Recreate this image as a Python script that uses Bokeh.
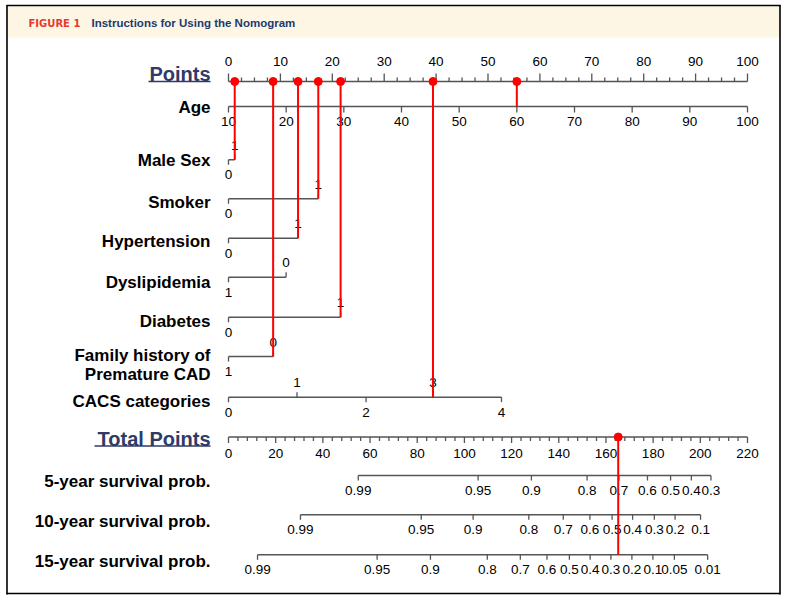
from bokeh.plotting import figure
from bokeh.models import Range1d
from bokeh.core.properties import value
from bokeh.embed import file_html
from bokeh.resources import INLINE

# ---------------- data ----------------
points_labels = [0, 10, 20, 30, 40, 50, 60, 70, 80, 90, 100]
age_labels = [10, 20, 30, 40, 50, 60, 70, 80, 90, 100]
total_labels = [0, 20, 40, 60, 80, 100, 120, 140, 160, 180, 200, 220]

var_names = ["Male Sex", "Smoker", "Hypertension", "Dyslipidemia", "Diabetes",
             "Family history of\nPremature CAD", "CACS categories"]
var_levels = [["0", "1"], ["0", "1"], ["0", "1"], ["1", "0"], ["0", "1"], ["1", "0"],
              ["0", "1", "2", "3", "4"]]
var_points = [[0, 1.2], [0, 17.3], [0, 13.4], [0, 11.1], [0, 21.6], [0, 8.6],
              [0, 13.2, 26.5, 39.4, 52.6]]

surv_names = ["5-year survival prob.", "10-year survival prob.", "15-year survival prob."]
surv5_labels = ["0.99", "0.95", "0.9", "0.8", "0.7", "0.6", "0.5", "0.4", "0.3"]
surv5_points = [55.0, 105.8, 128.4, 152.0, 165.5, 177.6, 187.4, 196.2, 204.5]
surv10_labels = ["0.99", "0.95", "0.9", "0.8", "0.7", "0.6", "0.5", "0.4", "0.3", "0.2", "0.1"]
surv10_points = [30.5, 81.7, 103.7, 127.3, 141.9, 153.2, 162.6, 171.3, 180.5, 189.3, 200.1]
surv15_labels = ["0.99", "0.95", "0.9", "0.8", "0.7", "0.6", "0.5", "0.4", "0.3", "0.2",
                 "0.1", "0.05", "0.01"]
surv15_points = [12.3, 63.0, 85.6, 109.7, 123.7, 135.0, 144.5, 153.3, 162.1, 171.0,
                 179.9, 189.0, 203.1]

patient_age = 60
patient_levels = ["1", "1", "1", "1", "1", "0", "3"]
patient_total = 165.2

# ---------------- layout ----------------
W, H = 788, 597
SX0, SX1 = 0, W
SY0, SY1 = 0, H
P0, P100 = 228.0, 747.0      # screen x of 0 and 100 points
k = (P100 - P0) / 100.0
xs = (SX0 - P0) / k
xe = (SX1 - P0) / k

p = figure(width=W, height=H, x_range=Range1d(xs, xe), y_range=Range1d(SY1, SY0),
           output_backend="svg", toolbar_location=None, min_border=0,
           x_axis_type=None, y_axis_type=None)
p.grid.visible = False
p.outline_line_color = None
p.background_fill_color = "white"
p.border_fill_color = "white"
p.extra_x_ranges = {
    "screen": Range1d(SX0, SX1),
    "age": Range1d(10 + 0.9 * xs, 10 + 0.9 * xe),
    "total": Range1d(2.2 * xs, 2.2 * xe),
}

FONT = value("Liberation Sans")
AX = "#555555"
NAVY = "#2f3b66"
RED = "#ff0000"

# header band and frame
p.quad(left=[6], right=[780], top=[5.5], bottom=[37], fill_color="#fdf6e5",
       line_color=None, x_range_name="screen")
p.multi_line(xs=[[6.5, 6.5], [779.5, 779.5], [6, 780], [6, 780]],
             ys=[[4.5, 594], [4.5, 594], [5, 5], [593, 593]],
             line_color="black", line_width=1.6, x_range_name="screen")
p.text(x=[28], y=[22.5], text=["FIGURE 1"], text_font=value("DejaVu Sans"),
       text_font_style="bold", text_font_size="10px", text_color="#e8392f",
       text_baseline="middle", x_range_name="screen")
p.text(x=[91], y=[22.5], text=["Instructions for Using the Nomogram"],
       text_font=FONT, text_font_style="bold",
       text_font_size="11.5px", text_color="#1d3a6f", text_baseline="middle",
       x_range_name="screen")

LBL_X = 210


def name(txt, y, size="17px", color="black"):
    p.text(x=[LBL_X], y=[y], text=[txt], text_font=FONT, text_font_style="bold",
           text_font_size=size, text_color=color, text_align="right",
           text_baseline="middle", x_range_name="screen")


def ticklabels(x, y, labels, rng="default"):
    kw = {} if rng == "default" else {"x_range_name": rng}
    p.text(x=x, y=[y] * len(x), text=labels, text_font=FONT, text_font_size="13.5px",
           text_color="black", text_align="center", text_baseline="middle", **kw)


# ---- Points axis ----
yP = 81
name("Points", 73, "20px", NAVY)
p.segment(x0=[148], x1=[210], y0=[81], y1=[81], line_color=NAVY, line_width=1.6,
          x_range_name="screen")
p.segment(x0=[points_labels[0]], x1=[points_labels[-1]], y0=[yP], y1=[yP],
          line_color=AX, line_width=1.5)
minor = [a + (b - a) * f for a, b in zip(points_labels[:-1], points_labels[1:])
         for f in (0.25, 0.5, 0.75)]
p.segment(x0=minor, x1=minor, y0=[yP] * len(minor), y1=[yP - 4] * len(minor),
          line_color=AX, line_width=1.3)
p.segment(x0=points_labels, x1=points_labels, y0=[yP] * len(points_labels),
          y1=[yP - 8] * len(points_labels), line_color=AX, line_width=1.3)
ticklabels(points_labels, 61, [str(v) for v in points_labels])

# ---- Age axis ----
yA = 106
name("Age", 107)
p.segment(x0=[age_labels[0]], x1=[age_labels[-1]], y0=[yA], y1=[yA], line_color=AX,
          line_width=1.5, x_range_name="age")
p.segment(x0=age_labels, x1=age_labels, y0=[yA] * len(age_labels),
          y1=[yA + 6] * len(age_labels), line_color=AX, line_width=1.3, x_range_name="age")
ticklabels(age_labels, 121, [str(v) for v in age_labels], "age")

# ---- categorical rows ----
row_line_y = [159.3, 198.3, 237.7, 276.7, 316.7, 356.0, 396.7]
row_name_y = [159.5, 202.0, 241.0, 281.5, 321.0, 364.0, 401.0]
for nm, lv, pts, ly, ny in zip(var_names, var_levels, var_points, row_line_y, row_name_y):
    parts = nm.split("\n")
    if len(parts) == 1:
        name(nm, ny)
    else:
        name(parts[0], ny - 9.5)
        name(parts[1], ny + 9.5)
    p.segment(x0=[min(pts)], x1=[max(pts)], y0=[ly], y1=[ly], line_color=AX,
              line_width=1.5)
    for i, (l, v) in enumerate(zip(lv, pts)):
        up = (i % 2 == 1)
        p.segment(x0=[v], x1=[v], y0=[ly], y1=[ly - 5 if up else ly + 5],
                  line_color=AX, line_width=1.3)
        ticklabels([v], ly - 14.5 if up else ly + 15, [l])

# ---- Total Points axis ----
yT = 436.5
name("Total Points", 438.5, "20px", NAVY)
p.segment(x0=[94], x1=[210], y0=[445.5], y1=[445.5], line_color=NAVY, line_width=1.6,
          x_range_name="screen")
p.segment(x0=[total_labels[0]], x1=[total_labels[-1]], y0=[yT], y1=[yT], line_color=AX,
          line_width=1.5, x_range_name="total")
tminor = [a + (b - a) * f for a, b in zip(total_labels[:-1], total_labels[1:])
          for f in (0.2, 0.4, 0.6, 0.8)]
p.segment(x0=tminor, x1=tminor, y0=[yT] * len(tminor), y1=[yT + 4] * len(tminor),
          line_color=AX, line_width=1.3, x_range_name="total")
p.segment(x0=total_labels, x1=total_labels, y0=[yT] * len(total_labels),
          y1=[yT + 6] * len(total_labels), line_color=AX, line_width=1.3,
          x_range_name="total")
ticklabels(total_labels, 452.5, [str(v) for v in total_labels], "total")

# ---- survival axes ----
surv_line_y = [475.0, 514.3, 554.3]
surv_name_y = [480.5, 520.5, 560.5]
for nm, labs, pts, ly, ny in zip(surv_names, [surv5_labels, surv10_labels, surv15_labels],
                                 [surv5_points, surv10_points, surv15_points],
                                 surv_line_y, surv_name_y):
    name(nm, ny)
    p.segment(x0=[min(pts)], x1=[max(pts)], y0=[ly], y1=[ly], line_color=AX,
              line_width=1.5, x_range_name="total")
    p.segment(x0=pts, x1=pts, y0=[ly] * len(pts), y1=[ly + 5] * len(pts),
              line_color=AX, line_width=1.3, x_range_name="total")
    ticklabels(pts, ly + 15, labs, "total")

# ---- patient example (red) ----
sel_x, sel_y = [], []
for lv, pts, ly, pl in zip(var_levels, var_points, row_line_y, patient_levels):
    v = pts[lv.index(pl)]
    if v > 0:
        sel_x.append(v)
        sel_y.append(ly)
p.segment(x0=sel_x, x1=sel_x, y0=[yP] * len(sel_x), y1=sel_y, line_color=RED,
          line_width=2)
p.scatter(x=sel_x, y=[yP] * len(sel_x), size=8, fill_color=RED, line_color=RED)
p.segment(x0=[patient_age], x1=[patient_age], y0=[yP], y1=[yA], line_color=RED,
          line_width=2, x_range_name="age")
p.scatter(x=[patient_age], y=[yP], size=8, fill_color=RED, line_color=RED,
          x_range_name="age")
p.segment(x0=[patient_total], x1=[patient_total], y0=[yT], y1=[surv_line_y[-1]],
          line_color=RED, line_width=2, x_range_name="total")
p.scatter(x=[patient_total], y=[yT], size=8, fill_color=RED, line_color=RED,
          x_range_name="total")

open("out.html", "w").write(file_html(p, INLINE))
